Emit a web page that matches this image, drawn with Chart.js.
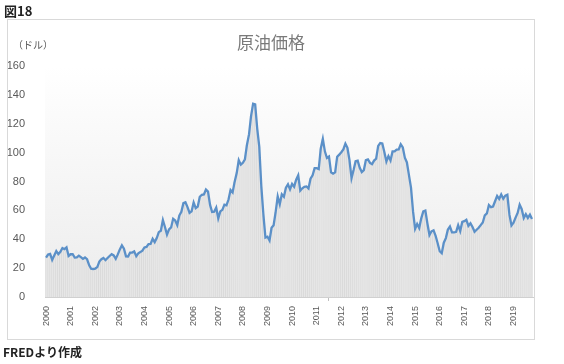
<!DOCTYPE html>
<html>
<head>
<meta charset="utf-8">
<script src="https://cdn.jsdelivr.net/npm/chart.js@4/dist/chart.umd.min.js"></script>
<style>
  html, body { margin: 0; padding: 0; background: #ffffff; }
  body { width: 564px; height: 364px; position: relative; overflow: hidden; font-family: "Noto Sans CJK JP", "Noto Sans", sans-serif; }
  #wrap { position: absolute; left: 0; top: 0; width: 564px; height: 364px; }
  #frame { position: absolute; left: 7px; top: 19px; width: 528px; height: 321px; border: 1px solid #d9d9d9; box-sizing: border-box; z-index: 2; pointer-events: none; }
  .txt { position: absolute; white-space: nowrap; z-index: 3; }
  #fig { left: 4px; top: 1px; font-size: 13px; font-weight: bold; color: #222; }
  #title { left: 0; width: 542px; text-align: center; top: 29px; font-size: 17px; color: #7a7a7a; }
  #unit { left: 13px; top: 37px; font-size: 10px; color: #595959; }
  #src { left: 3px; top: 343px; font-size: 12px; font-weight: bold; color: #222; }
</style>
</head>
<body>
<div id="wrap"><canvas id="c" width="564" height="364"></canvas></div>
<div id="frame"></div>
<div class="txt" id="fig">図18</div>
<div class="txt" id="title">原油価格</div>
<div class="txt" id="unit">（ドル）</div>
<div class="txt" id="src">FREDより作成</div>
<script>
const years = ['2000','2001','2002','2003','2004','2005','2006','2007','2008','2009',
               '2010','2011','2012','2013','2014','2015','2016','2017','2018','2019'];
const yTicks = [0, 20, 40, 60, 80, 100, 120, 140, 160];
// Monthly crude oil price (USD/bbl), Jan 2000 - Oct 2019
const prices = [
  27.3, 29.4, 29.8, 25.7, 28.8, 31.8, 29.7, 31.3, 33.9, 33.1, 34.4, 28.4,
  29.6, 29.6, 27.3, 27.5, 28.6, 27.6, 26.4, 27.4, 26.2, 22.2, 19.6, 19.4,
  19.7, 20.7, 24.5, 26.2, 27.0, 25.5, 27.0, 28.4, 29.7, 28.8, 26.4, 29.5,
  33.0, 35.8, 33.5, 28.2, 28.1, 30.7, 30.8, 31.6, 28.3, 30.3, 31.1, 32.1,
  34.3, 34.7, 36.7, 36.8, 40.3, 38.0, 40.8, 44.9, 45.9, 53.3, 48.5, 43.2,
  46.8, 48.2, 54.2, 53.0, 49.8, 56.4, 59.0, 65.0, 65.6, 62.3, 58.3, 59.4,
  65.5, 61.6, 62.7, 69.4, 70.8, 71.0, 74.4, 73.0, 63.8, 58.9, 59.1, 62.0,
  54.5, 59.3, 60.4, 64.0, 63.5, 67.5, 74.1, 72.4, 79.9, 85.8, 94.8, 91.7,
  93.0, 95.4, 105.5, 112.6, 125.4, 133.9, 133.4, 116.7, 104.1, 76.6, 57.3, 41.1,
  41.7, 39.1, 47.9, 49.7, 59.0, 69.6, 64.2, 71.1, 69.4, 75.7, 78.0, 74.5,
  78.3, 76.4, 81.2, 84.3, 73.7, 75.3, 76.3, 76.6, 75.2, 81.9, 84.3, 89.2,
  89.2, 88.6, 102.9, 109.5, 100.9, 96.3, 97.3, 86.3, 85.5, 86.3, 97.2, 98.6,
  100.3, 102.2, 106.2, 103.3, 94.7, 82.3, 87.9, 94.1, 94.5, 89.5, 86.5, 87.9,
  94.8, 95.3, 92.9, 92.0, 94.5, 95.8, 104.7, 106.6, 106.3, 100.5, 93.9, 97.6,
  94.6, 100.8, 100.8, 102.1, 102.2, 105.8, 103.6, 96.5, 93.2, 84.4, 75.8, 59.3,
  47.2, 50.6, 47.8, 54.5, 59.3, 59.8, 50.9, 42.9, 45.5, 46.2, 42.4, 37.2,
  31.7, 30.3, 37.6, 40.8, 46.7, 48.8, 44.7, 44.7, 45.2, 49.8, 45.7, 52.0,
  52.5, 53.5, 49.3, 51.1, 48.5, 45.2, 46.6, 48.0, 49.8, 51.6, 56.6, 57.9,
  63.7, 62.2, 62.7, 66.3, 70.0, 67.9, 71.0, 68.1, 70.2, 70.8, 57.0, 49.5,
  51.4, 55.0, 58.2, 63.9, 60.8, 54.7, 57.4, 54.8, 57.0, 54.0
];

const labels = [];
years.forEach(y => { for (let m = 1; m <= 12; m++) labels.push(y + '-' + String(m).padStart(2, '0')); });
labels.length = prices.length;

const bgPlugin = {
  id: 'plotBg',
  beforeDraw(chart) {
    const { ctx, chartArea: a } = chart;
    const g = ctx.createLinearGradient(0, a.top, 0, a.bottom);
    g.addColorStop(0, '#ffffff');
    g.addColorStop(1, '#ececec');
    ctx.save();
    ctx.fillStyle = g;
    ctx.fillRect(a.left, a.top, a.right - a.left, a.bottom - a.top);
    ctx.restore();
  }
};

new Chart(document.getElementById('c'), {
  type: 'bar',
  data: {
    labels: labels,
    datasets: [
      {
        type: 'line',
        data: prices,
        borderColor: '#5b90c8',
        borderWidth: 2.3,
        pointRadius: 0,
        tension: 0,
        fill: false,
        order: 0
      },
      {
        type: 'bar',
        data: prices,
        backgroundColor: '#e6e6e6',
        borderColor: '#d3d3d3',
        borderWidth: { left: 0.6, right: 0, top: 0, bottom: 0 },
        borderSkipped: false,
        barPercentage: 1.0,
        categoryPercentage: 1.0,
        order: 1
      }
    ]
  },
  plugins: [bgPlugin],
  options: {
    responsive: false,
    animation: false,
    events: [],
    layout: { padding: { left: 0, right: 31, top: 66, bottom: 0 } },
    plugins: { legend: { display: false }, title: { display: false }, tooltip: { enabled: false } },
    scales: {
      x: {
        offset: true,
        grid: {
          display: true,
          offset: true,
          drawOnChartArea: false,
          tickLength: 4,
          color: ctx => (ctx.index % 12 === 0 ? '#bfbfbf' : 'rgba(0,0,0,0)')
        },
        border: { display: true, color: '#d0d0d0' },
        ticks: {
          autoSkip: false,
          maxRotation: 90,
          minRotation: 90,
          padding: 5,
          color: '#595959',
          font: { family: "'Liberation Sans Narrow', 'Liberation Sans'", size: 9 },
          callback: function (val, idx) { return idx % 12 === 0 ? years[idx / 12] : null; }
        },
        afterFit(scale) { scale.height = 67; }
      },
      y: {
        min: 0,
        max: 160,
        afterBuildTicks(scale) { scale.ticks = yTicks.map(v => ({ value: v })); },
        grid: { display: false },
        border: { display: false },
        ticks: {
          padding: 12,
          color: '#595959',
          font: { family: 'Liberation Sans', size: 11 }
        },
        afterFit(scale) { scale.width = 45; }
      }
    }
  }
});
</script>
</body>
</html>
